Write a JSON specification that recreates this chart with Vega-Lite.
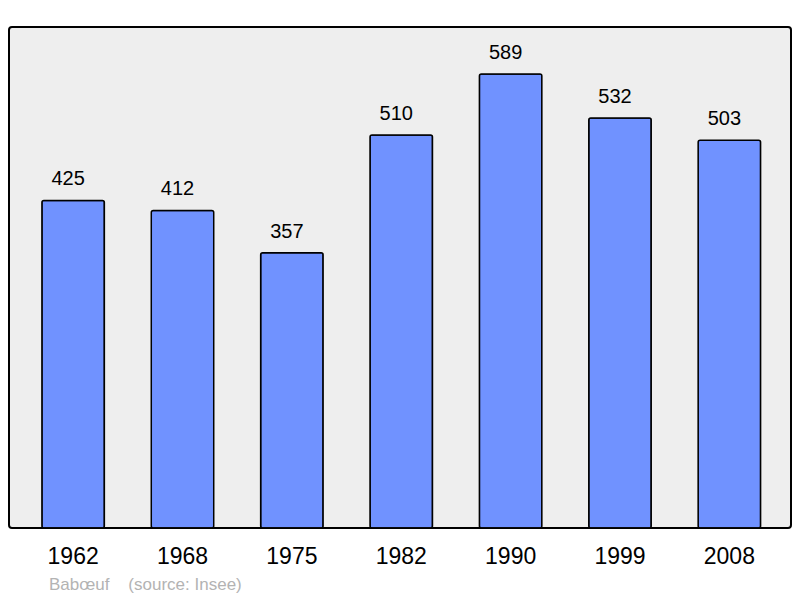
{
  "$schema": "https://vega.github.io/schema/vega-lite/v6.json",
  "width": 782,
  "height": 501,
  "autosize": "none",
  "padding": {"left": 9, "right": 9, "top": 27, "bottom": 70},
  "background": "white",
  "data": {"values": [
    {"year": "1962", "pop": 425},
    {"year": "1968", "pop": 412},
    {"year": "1975", "pop": 357},
    {"year": "1982", "pop": 510},
    {"year": "1990", "pop": 589},
    {"year": "1999", "pop": 532},
    {"year": "2008", "pop": 503}
  ]},
  "title": {
    "text": "Babœuf\u00a0\u00a0\u00a0\u00a0(source: Insee)",
    "orient": "bottom",
    "anchor": "start",
    "frame": "bounds",
    "offset": 9,
    "dx": 40,
    "fontSize": 17,
    "fontWeight": "normal",
    "font": "Liberation Sans",
    "color": "#b3b3b3"
  },
  "config": {
    "view": {"fill": "#eeeeee", "stroke": "black", "strokeWidth": 2, "cornerRadius": 3},
    "font": "Liberation Sans"
  },
  "encoding": {
    "x": {
      "field": "year", "type": "ordinal",
      "scale": {"paddingInner": 0.429, "paddingOuter": 0.278, "range": [2.5, 782]},
      "axis": {"title": null, "domain": false, "ticks": false, "labelAngle": 0,
               "labelFontSize": 23, "labelColor": "black", "labelPadding": 17,
               "labelFont": "Liberation Sans"}
    },
    "y": {
      "field": "pop", "type": "quantitative",
      "scale": {"domain": [0, 650], "nice": false},
      "axis": null
    }
  },
  "layer": [
    {"mark": {"type": "bar", "fill": "#7092ff", "stroke": "black", "strokeWidth": 1.5, "cornerRadius": 2}},
    {"mark": {"type": "text", "baseline": "alphabetic", "dy": -15, "dx": -5, "fontSize": 20, "color": "black", "font": "Liberation Sans"},
     "encoding": {"text": {"field": "pop", "type": "quantitative"}}}
  ]
}
